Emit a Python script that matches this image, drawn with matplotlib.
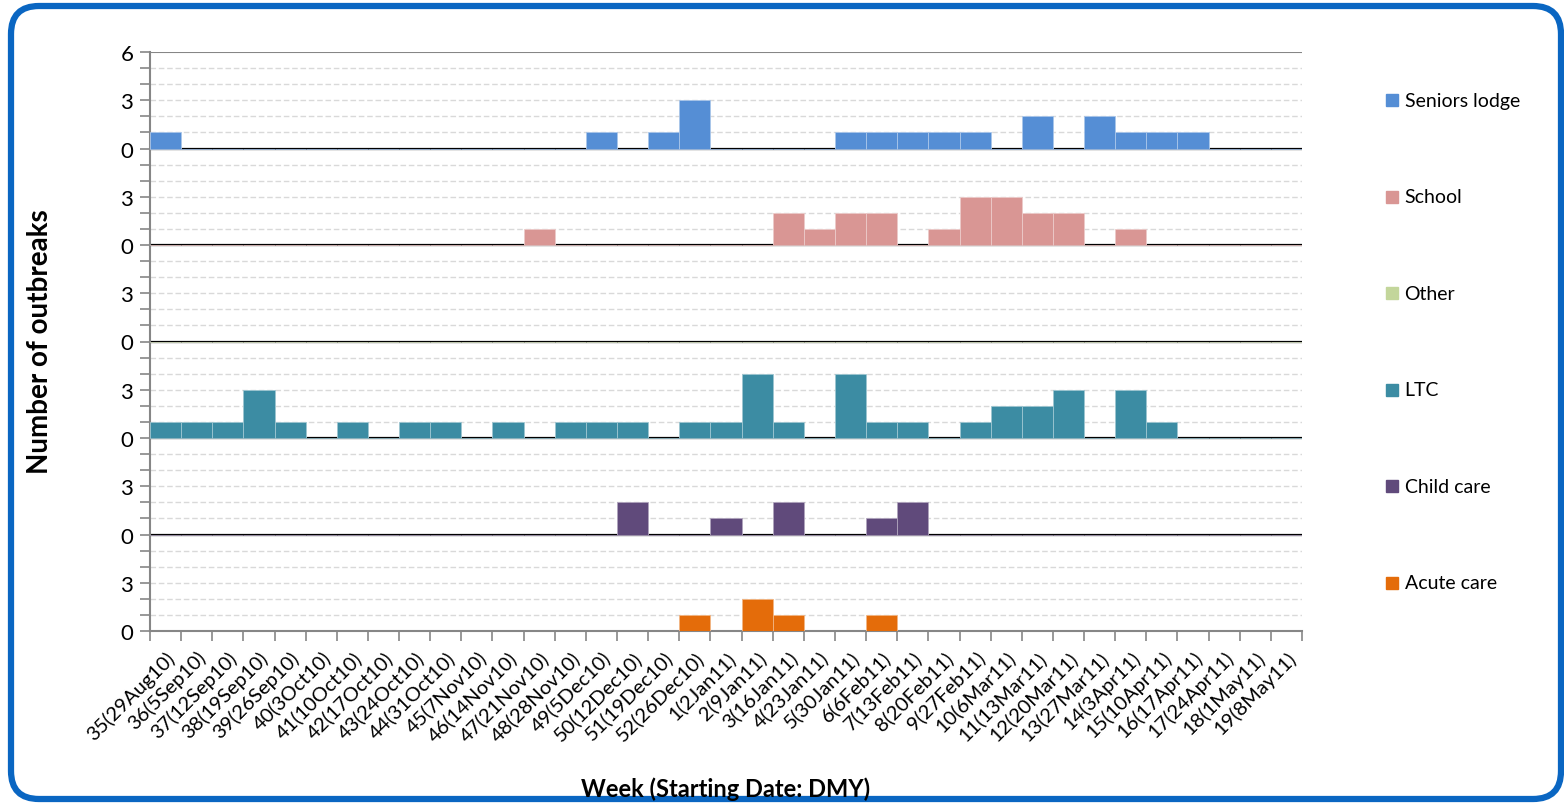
import matplotlib
matplotlib.use("Agg")
import matplotlib.pyplot as plt
import matplotlib.colors as mcolors
from matplotlib.patches import FancyBboxPatch
from matplotlib.transforms import blended_transform_factory

plt.rcParams['font.family'] = ['Lato', 'DejaVu Sans']

# week labels (week number and starting date)
weeks = ['35(29Aug10)', '36(5Sep10)', '37(12Sep10)', '38(19Sep10)', '39(26Sep10)',
         '40(3Oct10)', '41(10Oct10)', '42(17Oct10)', '43(24Oct10)', '44(31Oct10)',
         '45(7Nov10)', '46(14Nov10)', '47(21Nov10)', '48(28Nov10)', '49(5Dec10)',
         '50(12Dec10)', '51(19Dec10)', '52(26Dec10)', '1(2Jan11)', '2(9Jan11)',
         '3(16Jan11)', '4(23Jan11)', '5(30Jan11)', '6(6Feb11)', '7(13Feb11)',
         '8(20Feb11)', '9(27Feb11)', '10(6Mar11)', '11(13Mar11)', '12(20Mar11)',
         '13(27Mar11)', '14(3Apr11)', '15(10Apr11)', '16(17Apr11)', '17(24Apr11)',
         '18(1May11)', '19(8May11)']

# outbreaks per week, one list per setting
seniors_lodge = [1, 0, 0, 0, 0, 0, 0, 0, 0, 0, 0, 0, 0, 0, 1, 0, 1, 3, 0, 0,
                 0, 0, 1, 1, 1, 1, 1, 0, 2, 0, 2, 1, 1, 1, 0, 0, 0]
school = [0, 0, 0, 0, 0, 0, 0, 0, 0, 0, 0, 0, 1, 0, 0, 0, 0, 0, 0, 0,
          2, 1, 2, 2, 0, 1, 3, 3, 2, 2, 0, 1, 0, 0, 0, 0, 0]
other = [0] * 37
ltc = [1, 1, 1, 3, 1, 0, 1, 0, 1, 1, 0, 1, 0, 1, 1, 1, 0, 1, 1, 4,
       1, 0, 4, 1, 1, 0, 1, 2, 2, 3, 0, 3, 1, 0, 0, 0, 0]
child_care = [0, 0, 0, 0, 0, 0, 0, 0, 0, 0, 0, 0, 0, 0, 0, 2, 0, 0, 1, 0,
              2, 0, 0, 1, 2, 0, 0, 0, 0, 0, 0, 0, 0, 0, 0, 0, 0]
acute_care = [0, 0, 0, 0, 0, 0, 0, 0, 0, 0, 0, 0, 0, 0, 0, 0, 0, 1, 0, 2,
              1, 0, 0, 1, 0, 0, 0, 0, 0, 0, 0, 0, 0, 0, 0, 0, 0]

# panels from top to bottom
series = [
    ("Seniors lodge", seniors_lodge, "#558ED5"),
    ("School", school, "#D99694"),
    ("Other", other, "#C3D69B"),
    ("LTC", ltc, "#3C8CA3"),
    ("Child care", child_care, "#604A7B"),
    ("Acute care", acute_care, "#E46C0A"),
]
panel_h = 6
n_panels = len(series)

fig = plt.figure(figsize=(15.64, 8.04), dpi=100)

# background frame with rounded corners (pixel coordinates)
bg = fig.add_axes([0, 0, 1, 1], zorder=-1)
bg.set_xlim(0, 1564)
bg.set_ylim(0, 804)
bg.axis('off')
bg.add_patch(FancyBboxPatch((11, 4), 1550, 793, boxstyle="round,pad=0,rounding_size=28",
                            fill=False, edgecolor="#0A66C2", linewidth=4.5))

ax = fig.add_axes([150 / 1564, (804 - 632) / 804, 1152 / 1564, (632 - 53) / 804])
ax.set_facecolor('none')

x = list(range(len(weeks)))
for i, (name, vals, col) in enumerate(series):
    base = (n_panels - 1 - i) * panel_h
    edge = mcolors.to_hex([0.5 * c + 0.5 for c in mcolors.to_rgb(col)])
    ax.bar(x, vals, width=1.0, bottom=base, color=col, edgecolor=edge,
           linewidth=0.6, zorder=3)

top = n_panels * panel_h
ax.set_xlim(-0.5, len(weeks) - 0.5)
ax.set_ylim(0, top)

# dashed grid at every unit, black baselines per panel
for y in range(1, top):
    if y % panel_h == 0:
        ax.axhline(y, color='black', linewidth=1.6, zorder=2)
    else:
        ax.axhline(y, color='#D9D9D9', linewidth=1.0, linestyle=(0, (4, 2)), zorder=1)
ax.axhline(top, color='#868686', linewidth=1.5, zorder=2)

# y ticks: every unit, labelled 0/3 in each panel
yt = list(range(0, top + 1))
ylabels = []
for y in yt:
    if y == top:
        ylabels.append('6')
    elif y % 3 == 0:
        ylabels.append(str(y % panel_h))
    else:
        ylabels.append('')
ax.set_yticks(yt)
ax.set_yticklabels(ylabels, fontsize=16)
ax.tick_params(axis='y', length=7, width=1.2, color='#868686', pad=5)

# x ticks: labels at centres, tick marks at boundaries
ax.set_xticks(x)
ax.set_xticklabels(weeks, rotation=45, ha='right', va='top', rotation_mode='anchor',
                   fontsize=14.5)
ax.tick_params(axis='x', which='major', length=0, pad=12)
ax.set_xticks([i - 0.5 for i in range(len(weeks) + 1)], minor=True)
ax.tick_params(axis='x', which='minor', length=7, width=1.2, color='#868686')

for s in ['top', 'right']:
    ax.spines[s].set_visible(False)
for s in ['left', 'bottom']:
    ax.spines[s].set_color('#868686')
    ax.spines[s].set_linewidth(1.5)

# legend entries aligned with each panel
tr = blended_transform_factory(ax.transAxes, ax.transData)
for i, (name, vals, col) in enumerate(series):
    yc = (n_panels - 1 - i) * panel_h + 3
    ax.plot([1.078], [yc], marker='s', markersize=9, color=col, transform=tr,
            clip_on=False, linestyle='none')
    ax.text(1.089, yc, name, transform=tr, fontsize=14, va='center', ha='left')

fig.text(726 / 1564, 1 - 789 / 804, "Week (Starting Date: DMY)", fontsize=17,
         fontweight='bold', ha='center', va='center')
fig.text(40 / 1564, 1 - 342 / 804, "Number of outbreaks", fontsize=20,
         fontweight='bold', ha='center', va='center', rotation=90)

fig.savefig("out.png", dpi=100)
